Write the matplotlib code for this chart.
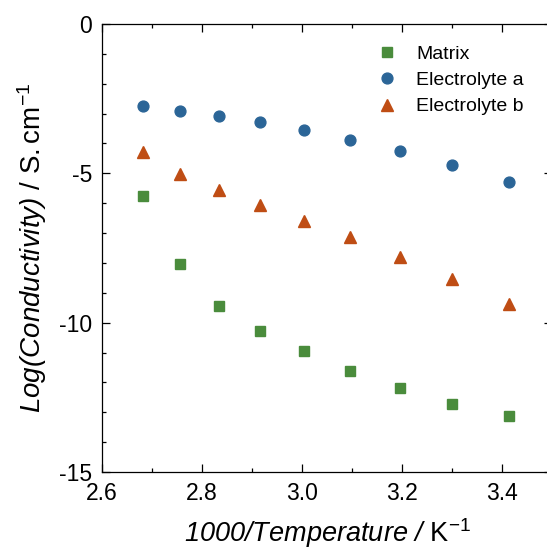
import matplotlib.pyplot as plt
from matplotlib.ticker import MultipleLocator

plt.rcParams['font.family'] = ['Liberation Sans', 'DejaVu Sans']
plt.rcParams['mathtext.fontset'] = 'custom'
plt.rcParams['mathtext.rm'] = 'Liberation Sans'
plt.rcParams['mathtext.it'] = 'Liberation Sans:italic'
plt.rcParams['axes.unicode_minus'] = False

# 1000/T values
inv_temp = [2.681, 2.755, 2.833, 2.915, 3.003, 3.096, 3.195, 3.300, 3.413]
matrix = [-5.75, -8.05, -9.43, -10.28, -10.96, -11.62, -12.20, -12.72, -13.11]
electrolyte_a = [-2.73, -2.90, -3.08, -3.29, -3.55, -3.87, -4.24, -4.71, -5.29]
electrolyte_b = [-4.30, -5.01, -5.57, -6.07, -6.58, -7.13, -7.79, -8.54, -9.38]

fig = plt.figure(figsize=(5.47, 5.49), dpi=100)
ax = fig.add_axes([0.1865, 0.1403, 0.823, 0.816])

ax.plot(inv_temp, matrix, 's', color='#4a8c3c', markersize=7, label='Matrix')
ax.plot(inv_temp, electrolyte_a, 'o', color='#2b6597', markersize=7.8, label='Electrolyte a')
ax.plot(inv_temp, electrolyte_b, '^', color='#bf4d14', markersize=8.3, label='Electrolyte b')

ax.set_xlim(2.6, 3.5)
ax.set_ylim(-15, 0)
ax.xaxis.set_minor_locator(MultipleLocator(0.1))
ax.yaxis.set_major_locator(MultipleLocator(5))
ax.yaxis.set_minor_locator(MultipleLocator(1))
ax.set_xticks([2.6, 2.8, 3.0, 3.2, 3.4])
ax.set_xticklabels(['2.6', '2.8', '3.0', '3.2', '3.4'])

ax.tick_params(which='both', direction='in', top=True, right=True, width=0.9,
               labelsize=16.5, pad=7)
ax.tick_params(which='major', length=6)
ax.tick_params(which='minor', length=3)
for s in ax.spines.values():
    s.set_linewidth(0.9)

ax.set_xlabel(r'1000/Temperature / $\mathrm{K^{-1}}$', fontsize=19.5,
              style='italic', labelpad=8)
ax.set_ylabel(r'Log(Conductivity)$\mathrm{\ /\ S.cm^{-1}}$', fontsize=20,
              style='italic', labelpad=7)

ax.legend(loc='upper left', bbox_to_anchor=(0.612, 0.953), frameon=False,
          fontsize=14, handlelength=1.0, handletextpad=1.0, labelspacing=0.45,
          borderaxespad=0, borderpad=0)

fig.savefig('out.png', dpi=100)
